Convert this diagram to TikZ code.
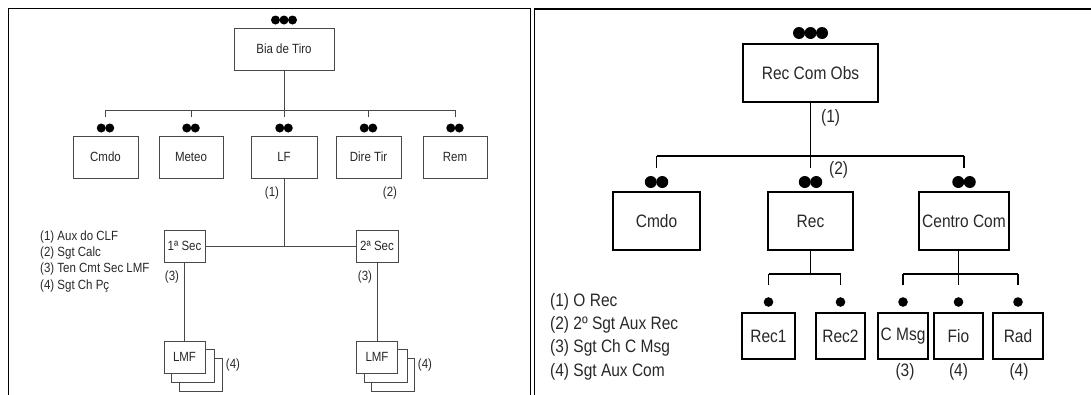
\documentclass[tikz,border=0pt]{standalone}
\usepackage{fontspec}
\setmainfont{Liberation Sans}
\usepackage{xcolor}
\usepackage{graphicx}
\usetikzlibrary{calc}
\definecolor{linegray}{RGB}{72,72,72}
\definecolor{textgray}{RGB}{40,40,40}
\newcommand{\tall}[1]{\scalebox{1}[1.16]{#1}}
\tikzset{
  unitbox/.style={draw=linegray,line width=0.9pt,fill=white,text=textgray,
    font=\fontsize{11.5}{13}\selectfont,inner sep=0pt},
  bigbox/.style={draw=black,line width=1.6pt,fill=white,text=textgray,
    font=\fontsize{15.5}{18}\selectfont,inner sep=0pt},
  link/.style={draw=linegray,line width=0.9pt},
  biglink/.style={draw=black,line width=1.5pt},
  note/.style={font=\fontsize{11.5}{13}\selectfont,text=textgray,inner sep=0pt},
  bignote/.style={font=\fontsize{15.5}{18}\selectfont,text=textgray,inner sep=0pt},
  panel/.style={draw=black,line width=1.8pt}
}
% rank marks above a box: count, x, y, radius
\newcommand{\rankdots}[4]{%
  \pgfmathsetmacro{\rdStep}{2*#4-0.5}%
  \foreach \rdK in {1,...,#1}{%
    \fill ({#2+(\rdK-(#1+1)/2)*\rdStep},#3) circle (#4);%
  }%
}
% stacked LMF sheets: name, x, y
\newcommand{\lmfstack}[3]{%
  \foreach \sk in {2,1}{%
    \draw[linegray,line width=0.9pt,fill=white] ({#2-20.5+7.5*\sk},{#3-16+8.5*\sk}) rectangle ++(43,33);%
  }%
  \node[unitbox,minimum width=41pt,minimum height=32pt] (#1) at (#2,#3) {\tall{LMF}};%
}

\begin{document}
\begin{tikzpicture}[x=1pt,y=-1pt]
  \useasboundingbox (0,0) rectangle (1091,394);
  \draw[panel] (8.5,400) -- (8.5,8.5) -- (530.5,8.5) -- (530.5,400);
  \draw[panel] (534.5,400) -- (534.5,9) -- (1100,9);

  % left panel
  \node[unitbox,minimum width=100pt,minimum height=42pt] (bia) at (284,49) {\tall{Bia de Tiro}};
  \rankdots{3}{284}{20}{4.5}
  \coordinate (lbus) at (284,110);
  \foreach \nm/\lbl/\cx/\bw in {cmdo/Cmdo/105.5/65, meteo/Meteo/191/64, lf/LF/284/66, dire/Dire Tir/368.5/65, rem/Rem/455/64}{
    \node[unitbox,minimum width=\bw pt,minimum height=42pt] (\nm) at (\cx,157) {\tall{\lbl}};
    \rankdots{2}{\cx}{128}{4.5}
    \draw[link] (\nm.north |- lbus) -- ++(0,7);
  }
  \draw[link] (bia) -- (lbus);
  \draw[link] (cmdo.north |- lbus) -- (rem.north |- lbus);
  \node[note] (lfa) at (272,193) {\tall{(1)}};
  \node[note] (dirb) at (390,193) {\tall{(2)}};

  \node[unitbox,minimum width=41pt,minimum height=32pt] (sec1) at (184.5,246) {\tall{1ª Sec}};
  \node[unitbox,minimum width=42pt,minimum height=32pt] (sec2) at (377,246) {\tall{2ª Sec}};
  \draw[link] (sec1) -- (sec2);
  \draw[link] (lf) -- (lf |- sec1);
  \node[note] (sec1c) at (172,277) {\tall{(3)}};
  \node[note] (sec2c) at (365,277) {\tall{(3)}};

  \lmfstack{lmf1}{184.5}{357}
  \lmfstack{lmf2}{377}{357}
  \draw[link] (sec1) -- (lmf1);
  \draw[link] (sec2) -- (lmf2);
  \node[note] (lmf1d) at (233,365) {\tall{(4)}};
  \node[note] (lmf2d) at (425,365) {\tall{(4)}};

  \foreach \k/\ly/\txt in {1/237/(1) Aux do CLF, 2/253/(2) Sgt Calc, 3/269/(3) Ten Cmt Sec LMF, 4/286/(4) Sgt Ch Pç}
    \node[note,anchor=west] (legl\k) at (40,\ly) {\tall{\txt}};

  % right panel
  \node[bigbox,minimum width=135pt,minimum height=58pt] (rco) at (810.5,73) {\tall{Rec Com Obs}};
  \rankdots{3}{810.5}{33}{6}
  \coordinate (rbus) at (810.5,156);
  \foreach \nm/\lbl/\cx/\bw in {rcmdo/Cmdo/656.5/87, rrec/Rec/810.5/85, rcen/Centro Com/964/90}{
    \node[bigbox,minimum width=\bw pt,minimum height=58pt] (\nm) at (\cx,221) {\tall{\lbl}};
    \rankdots{2}{\cx}{182}{6}
    \draw[biglink] (\nm.north |- rbus) -- ++(0,12);
  }
  \draw[biglink] (rco) -- (rbus);
  \draw[biglink] (rcmdo.north |- rbus) -- (rcen.north |- rbus);
  \node[bignote,anchor=west] (rcoa) at (821,118) {\tall{(1)}};
  \node[bignote,anchor=west] (rrecb) at (829,170) {\tall{(2)}};

  \coordinate (recbus) at (807,274);
  \coordinate (cenbus) at (961,274);
  \foreach \nm/\lbl/\cx/\bw in {rec1/Rec1/768.5/53, rec2/Rec2/840.5/49, cmsg/C Msg/903/50, fio/Fio/958.5/49, rad/Rad/1018/50}{
    \node[bigbox,minimum width=\bw pt,minimum height=46pt] (\nm) at (\cx,336) {\tall{\lbl}};
    \rankdots{1}{\cx}{302}{4.8}
    \draw[biglink] (\nm.north |- recbus) -- ++(0,11);
  }
  \draw[biglink] (rrec) -- (rrec |- recbus);
  \draw[biglink] (rec1.north |- recbus) -- (rec2.north |- recbus);
  \draw[biglink] (rcen.south -| fio) -- (fio |- cenbus);
  \draw[biglink] (cmsg.north |- cenbus) -- (rad.north |- cenbus);
  \node[bignote] (cmsgc) at (905,372) {\tall{(3)}};
  \node[bignote] (fiod) at (958.5,372) {\tall{(4)}};
  \node[bignote] (radd) at (1019,372) {\tall{(4)}};

  \foreach \k/\ly/\txt in {1/302/(1) O Rec, 2/325/(2) 2º Sgt Aux Rec, 3/348/(3) Sgt Ch C Msg, 4/372/(4) Sgt Aux Com}
    \node[bignote,anchor=west] (legr\k) at (550,\ly) {\tall{\txt}};
\end{tikzpicture}
\end{document}
